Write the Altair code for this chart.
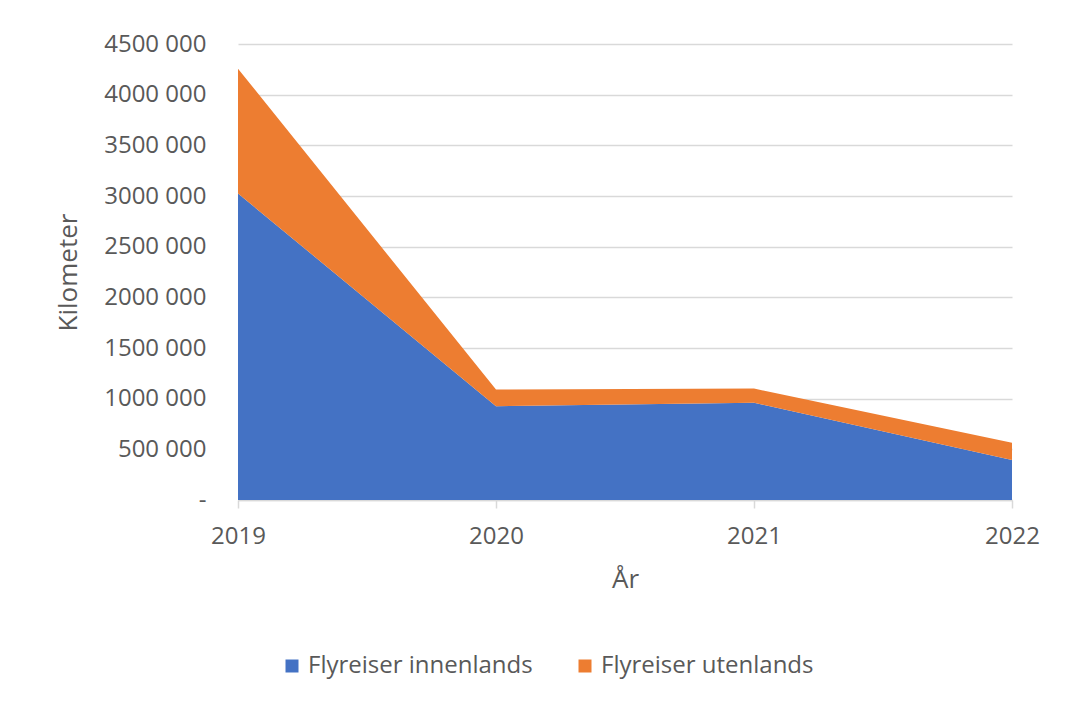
import altair as alt
import pandas as pd

years = [2019, 2020, 2021, 2022]
innenlands = [3025000, 925000, 960000, 395000]
utenlands = [1231000, 165000, 140000, 170000]
series = ["Flyreiser innenlands", "Flyreiser utenlands"]
colors = ["#4472C4", "#ED7D31"]
y_ticks = [0, 500000, 1000000, 1500000, 2000000, 2500000, 3000000, 3500000, 4000000, 4500000]

rows = []
for i, yr in enumerate(years):
    rows.append({"year": yr, "series": series[0], "value": innenlands[i], "ord": 0})
    rows.append({"year": yr, "series": series[1], "value": utenlands[i], "ord": 1})
df = pd.DataFrame(rows)

FONT = "Open Sans"
GREY = "#595959"

chart = alt.Chart(df).mark_area(opacity=1).encode(
    x=alt.X("year:Q",
            scale=alt.Scale(domain=[2019, 2022], nice=False, zero=False),
            axis=alt.Axis(values=years, format="d", title="År", grid=False,
                          domainColor="#D9D9D9", domainWidth=1.5,
                          tickColor="#D9D9D9", tickWidth=1.5, tickSize=8,
                          labelPadding=16, titlePadding=18,
                          labelFontSize=24, titleFontSize=26,
                          labelFlush=False)),
    y=alt.Y("value:Q", stack="zero",
            scale=alt.Scale(domain=[0, 4500000], nice=False),
            axis=alt.Axis(values=y_ticks, title="Kilometer", domain=False, ticks=False,
                          labelExpr="datum.value == 0 ? '-' : floor(datum.value/1000) + ' 000'",
                          gridColor="#D9D9D9", gridWidth=1.5,
                          labelPadding=32, titlePadding=22,
                          labelFontSize=24, titleFontSize=26)),
    color=alt.Color("series:N",
                    scale=alt.Scale(domain=series, range=colors),
                    legend=alt.Legend(title=None, orient="none", legendX=42, legendY=610,
                                      direction="horizontal", symbolType="square",
                                      symbolSize=169, symbolStrokeWidth=0,
                                      labelFontSize=24, labelColor=GREY, labelFont=FONT,
                                      labelLimit=0,
                                      columnPadding=40, labelOffset=4)),
    order=alt.Order("ord:Q"),
).properties(
    width=774, height=456,
    autosize=alt.AutoSizeParams(type="none"),
    padding={"left": 230, "top": 36, "right": 47, "bottom": 195},
).configure_axis(
    labelFont=FONT, titleFont=FONT, labelColor=GREY, titleColor=GREY,
    titleFontWeight="normal",
).configure_view(stroke=None)

chart.save("out.html", embed_options={"renderer": "svg", "actions": False})
